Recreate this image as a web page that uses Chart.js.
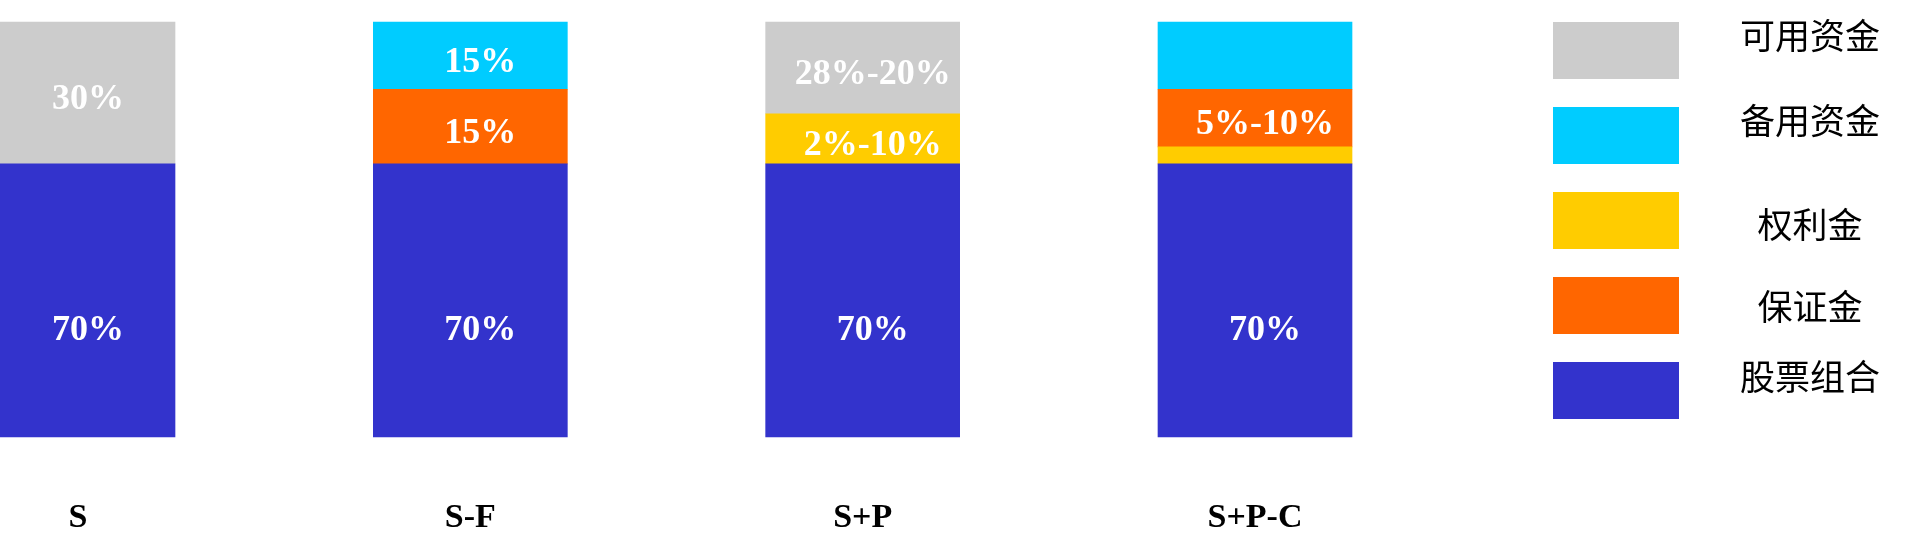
<!DOCTYPE html>
<html>
<head>
<meta charset="utf-8">
<script src="https://cdn.jsdelivr.net/npm/chart.js@4"></script>
<style>
  body { margin: 0; background: #fff; }
  canvas { display: block; }
</style>
</head>
<body>
<canvas id="myChart" width="1908" height="546"></canvas>
<script>
// categories
const strategies = ["S", "S-F", "S+P", "S+P-C"];

// bar heights (share of the full bar)
const stock   = [65.8, 65.8, 65.8, 65.8];
const premium = [null, null, 12.1, 4.1];
const margin  = [null, 18.0, null, 13.9];
const reserve = [null, 16.2, null, 16.2];
const free    = [34.2, null, 22.1, null];

// text written on each segment
const stockText   = ["70%", "70%", "70%", "70%"];
const premiumText = [null, null, "2%-10%", null];
const marginText  = [null, "15%", null, "5%-10%"];
const reserveText = [null, "15%", null, null];
const freeText    = ["30%", null, "28%-20%", null];

const names  = ["股票组合", "权利金", "保证金", "备用资金", "可用资金"];
const colors = ["#3333CC", "#FFCC00", "#FF6600", "#00CCFF", "#CCCCCC"];
// legend rows from top to bottom (dataset index)
const legendOrder = [4, 3, 1, 2, 0];

const values = [stock, premium, margin, reserve, free];
const texts  = [stockText, premiumText, marginText, reserveText, freeText];

// white percentage labels inside the bars
const segmentLabels = {
  id: "segmentLabels",
  afterDatasetsDraw(chart) {
    const ctx = chart.ctx;
    ctx.save();
    ctx.font = "bold 36px 'Liberation Serif', 'Times New Roman', serif";
    ctx.fillStyle = "#ffffff";
    ctx.textAlign = "center";
    ctx.textBaseline = "middle";
    chart.data.datasets.forEach((ds, i) => {
      chart.getDatasetMeta(i).data.forEach((bar, j) => {
        const t = ds.labelsText[j];
        if (!t) return;
        const dy = i === 0 ? 30 : 7;
        ctx.fillText(t, bar.x + 10, (bar.y + bar.base) / 2 + dy);
      });
    });
    ctx.restore();
  }
};

// legend on the right: coloured box, name to the right of it
const sideLegend = {
  id: "sideLegend",
  afterDraw(chart) {
    const ctx = chart.ctx;
    const textShift = [-14, -14, 5, 2, -13]; // names sit a little off the box centres
    ctx.save();
    ctx.font = "35px 'Noto Sans CJK SC', sans-serif";
    ctx.textAlign = "center";
    ctx.textBaseline = "middle";
    legendOrder.forEach((idx, k) => {
      const ds = chart.data.datasets[idx];
      const top = 22 + k * 85;
      ctx.fillStyle = ds.backgroundColor;
      ctx.fillRect(1553, top, 126, 57);
      ctx.fillStyle = "#000";
      ctx.fillText(ds.label, 1810, top + 28 + textShift[k]);
    });
    ctx.restore();
  }
};

new Chart("myChart", {
  type: "bar",
  data: {
    labels: strategies,
    datasets: values.map((v, i) => ({
      label: names[i],
      data: v,
      labelsText: texts[i],
      backgroundColor: colors[i],
      borderWidth: 0,
      barThickness: 194,
      clip: false
    }))
  },
  options: {
    responsive: false,
    animation: false,
    devicePixelRatio: 1,
    layout: {
      padding: {left: 78, right: 653, top: 22, bottom: 0}
    },
    plugins: {
      legend: {display: false},
      tooltip: {enabled: false}
    },
    scales: {
      x: {
        stacked: true,
        offset: false,
        grid: {display: false, drawTicks: false},
        border: {display: false},
        afterFit: (scale) => { scale.height = 109; },
        ticks: {
          color: "#000",
          padding: 61,
          maxRotation: 0,
          autoSkip: false,
          font: {family: "'Liberation Serif', 'Times New Roman', serif", size: 34, weight: "bold"}
        }
      },
      y: {
        stacked: true,
        display: false,
        min: 0,
        max: 100
      }
    }
  },
  plugins: [segmentLabels, sideLegend]
});
</script>
</body>
</html>
